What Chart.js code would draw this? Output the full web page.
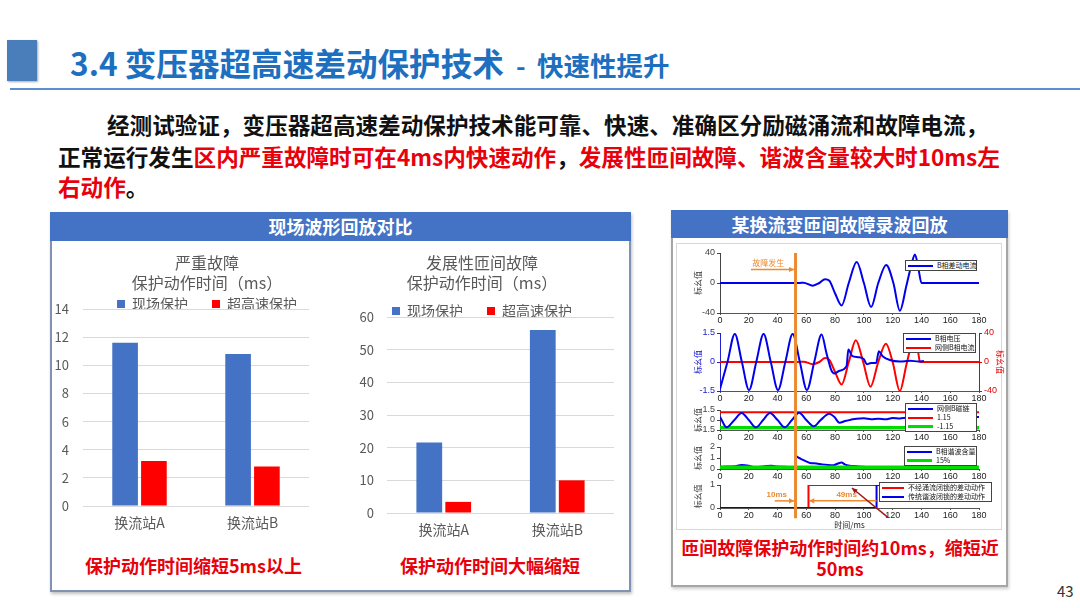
<!DOCTYPE html>
<html lang="zh-CN"><head><meta charset="utf-8"><title>3.4 变压器超高速差动保护技术</title>
<script src="https://cdn.jsdelivr.net/npm/chart.js@4.4.1/dist/chart.umd.min.js"></script>
<style>
*{box-sizing:border-box}
html,body{margin:0;padding:0;background:#fff}
body{position:relative;width:1080px;height:608px;overflow:hidden;font-family:"Noto Sans CJK SC","Noto Sans",sans-serif}
.a{position:absolute;white-space:nowrap}
canvas{position:absolute;z-index:1}
.p{font-size:22.6px;font-weight:700;color:#111;line-height:30px}
.r{color:#e8000b}
.hd{position:absolute;background:#4472c4;color:#fff;font-weight:700;font-size:18px;text-align:center;z-index:1}
.leg{position:absolute;background:#fff;border:1px solid #444;z-index:5;font-size:7px;line-height:9px;color:#111;padding:0 2px}
.leg div{display:flex;align-items:center;height:9px;white-space:nowrap}
.leg i{display:inline-block;width:25px;height:2px;margin-right:4px;flex:none}
.cap{font-size:18px;font-weight:700;color:#e8000b;line-height:21px}
</style></head><body>

<div class="a" style="left:7px;top:40px;width:30px;height:41px;background:#4a7ebb;box-shadow:1px 1px 2px rgba(0,0,0,.35)"></div>
<div class="a" style="left:70px;top:42px;font-size:31.6px;line-height:40px;font-weight:700;color:#1d6fbf">3.4 变压器超高速差动保护技术</div>
<div class="a" style="left:516px;top:47px;font-size:26px;line-height:36px;font-weight:700;color:#1d6fbf">-</div>
<div class="a" style="left:537px;top:47px;font-size:26.5px;line-height:36px;font-weight:700;color:#1d6fbf">快速性提升</div>
<div class="a" style="left:10px;top:88px;width:1070px;height:2px;background:#5b8fd1"></div>

<div class="a p" style="left:107px;top:110px">经测试验证，变压器超高速差动保护技术能可靠、快速、准确区分励磁涌流和故障电流，</div>
<div class="a p" style="left:58px;top:142px">正常运行发生<span class="r">区内严重故障时可在4ms内快速动作</span>，<span class="r">发展性匝间故障、谐波含量较大时10ms左</span></div>
<div class="a p" style="left:58px;top:172px"><span class="r">右动作</span>。</div>

<!-- left panel -->
<div class="a" style="left:50px;top:212px;width:581px;height:380px;border:2px solid #8193b2;box-shadow:1px 2px 3px rgba(0,0,0,.25)"></div>
<div class="hd" style="left:50px;top:212px;width:581px;height:29px;line-height:29px">现场波形回放对比</div>
<canvas id="c1" width="314" height="280" style="left:50px;top:253px"></canvas>
<canvas id="c2" width="264" height="287" style="left:350px;top:253px"></canvas>
<div class="a cap" style="left:85px;top:555px">保护动作时间缩短5ms以上</div>
<div class="a cap" style="left:400px;top:555px">保护动作时间大幅缩短</div>

<!-- right panel -->
<div class="a" style="left:671px;top:210px;width:337px;height:377px;border:2px solid #a6a6a6;box-shadow:1px 2px 3px rgba(0,0,0,.2)"></div>
<div class="hd" style="left:671px;top:210px;width:337px;height:28px;line-height:28px">某换流变匝间故障录波回放</div>
<div class="a" style="left:676px;top:243px;width:326px;height:287px;border:1px solid #d8d8d8"></div>
<canvas id="w1" width="330" height="83" style="left:675px;top:245px"></canvas>
<canvas id="w2" width="330" height="81" style="left:675px;top:325px"></canvas>
<canvas id="w3" width="330" height="43" style="left:675px;top:402px"></canvas>
<canvas id="w4" width="330" height="45" style="left:675px;top:439px"></canvas>
<canvas id="w5" width="330" height="54" style="left:675px;top:477px"></canvas>
<canvas id="ov" width="330" height="290" style="left:675px;top:243px;z-index:2"></canvas>

<div class="leg" style="left:905px;top:260px;width:72px;height:11px"><div><i style="background:#0000ee"></i>B相差动电流</div></div>
<div class="leg" style="left:903px;top:333px;width:73px;height:20px"><div><i style="background:#0000ee"></i>B相电压</div><div><i style="background:#ff0000"></i>网侧B相电流</div></div>
<div class="leg" style="left:905px;top:403px;width:72px;height:29px"><div><i style="background:#0000ee"></i>网侧B磁链</div><div><i style="background:#ff0000"></i>1.15</div><div><i style="background:#00dd00;height:3px"></i>-1.15</div></div>
<div class="leg" style="left:904px;top:446px;width:73px;height:20px"><div><i style="background:#0000ee"></i>B相谐波含量</div><div><i style="background:#00dd00;height:3px"></i>15%</div></div>
<div class="leg" style="left:879px;top:482px;width:113px;height:20px"><div><i style="background:#ff0000;width:22px"></i>不经涌流闭锁的差动动作</div><div><i style="background:#0000ee;width:22px"></i>传统谐波闭锁的差动动作</div></div>

<div class="a cap" style="left:672px;top:537px;width:336px;text-align:center">匝间故障保护动作时间约10ms，缩短近<br>50ms</div>
<div class="a" style="left:1057px;top:581px;font-size:15px;line-height:20px;color:#333">43</div>

<script>
// ---------- 现场波形回放对比 ----------
const stations = ['换流站A', '换流站B'];
const seriesNames = ['现场保护', '超高速保护'];
const severeTitle = ['严重故障', '保护动作时间（ms）'];
const severeField = [11.6, 10.8];
const severeFast = [3.2, 2.8];
const turnTitle = ['发展性匝间故障', '保护动作时间（ms）'];
const turnField = [21.6, 56];
const turnFast = [3.4, 10];

// ---------- 某换流变匝间故障录波回放 (时间 ms) ----------
const faultT = 52.5;
const diffT = [0, 55, 58, 64.5, 69, 73, 76, 80, 84.5, 89.5, 95, 100, 105, 110, 115.5, 120.5, 125, 129.5, 133, 135.5, 138, 140, 180];
const diffV = [0, 0, 0.5, -3.5, 0, 5, 3, -14, -30, 0, 28, 0, -32, 0, 24, 0, -37, -4, 24, 38, 18, 0, 0];
const voltT = [0, 5.2, 10.3, 15.2, 20.2, 25.2, 30.3, 35.3, 40.3, 45.4, 50.5, 55.5, 60.4, 65.5, 70.6, 74, 77.5, 79.5, 83, 88, 89.2, 92, 96, 100, 102, 105, 108.5, 110.4, 113, 118, 125, 132, 138, 141.7];
const voltV = [-1.4, 0, 1.45, 0, -1.45, 0, 1.45, 0, -1.45, 0, 1.45, 0, -1.45, 0, 1.42, 0.45, -0.45, -0.6, -0.45, -0.2, 0.65, 0.3, 0.25, 0.15, -0.12, -0.05, -0.05, 0.55, 0.3, 0.1, 0.02, 0.06, 0.03, 0.05];
const gridT = [0, 55, 58, 64.5, 69, 73, 76, 80, 84.5, 89.5, 94.4, 99.5, 104.6, 110, 115.3, 120, 125, 129.5, 133, 135.5, 137.5, 139, 180];
const gridV = [0, 0, 0.5, -3, 0, 5.5, 3, -14, -31, 0, 30, 0, -34, 0, 25, 0, -40, -4, 24, 38, 17, 0, 0];
const fluxT = [0, 4.6, 10, 15, 20, 25, 30, 34.7, 40, 45, 50, 55, 60, 65.3, 70, 75.9, 79.5, 83, 87, 91, 95, 100, 105, 110, 115, 120, 125, 130, 140, 150, 160, 170, 180];
const fluxV = [0.5, -1.1, 0, 1.05, 0, -1.1, 0, 1.05, 0, -1.1, 0, 1.1, 0, -0.95, 0, 0.95, 0.45, -0.4, -0.15, 0.05, 0.2, 0.25, 0.12, 0.2, 0.1, 0.3, 0.22, 0.35, 0.3, 0.4, 0.35, 0.42, 0.45];
const fluxLimT = [0, 180];
const fluxUpper = [1.15, 1.15];
const fluxLower = [-1.15, -1.15];
const harmT = [0, 5, 10, 15, 20, 24, 28, 32, 36, 40, 45, 50, 52.4, 52.7, 55, 58, 62.5, 67, 71, 75, 79, 82, 84.4, 87, 90, 95, 100, 104, 108, 120, 130, 140, 148.3, 149];
const harmV = [0.2, 0.22, 0.25, 0.37, 0.3, 0.15, 0.2, 0.28, 0.3, 0.22, 0.2, 0.15, 0.15, 1.15, 1.0, 0.8, 0.55, 0.5, 0.42, 0.37, 0.35, 0.5, 0.58, 0.4, 0.3, 0.25, 0.2, 0.08, 0.05, 0.05, 0.05, 0.05, 0.05, 0.25];
const harmLimT = [0, 180];
const harmLim = [0.15, 0.15];
const fastT = [0, 61.5, 61.5, 180];
const fastV = [0, 0, 1, 1];
const slowT = [0, 108.8, 108.8, 180];
const slowV = [0, 0, 1, 1];

Chart.defaults.font.family = '"Noto Sans CJK SC","Noto Sans",sans-serif';

const shrinkLegend = px => ({ id: 'shrinkLegend', beforeInit(chart) {
  const f = chart.legend.fit;
  chart.legend.fit = function () { f.call(this); this.height -= px; };
}});

function barChart(id, title, field, fast, ymax, step, yW, yPad, rW, titlePadB, shrink) {
  const ds = (label, data, color) => ({ label, data, backgroundColor: color, categoryPercentage: 0.51, barPercentage: 0.89 });
  return new Chart(document.getElementById(id), {
    type: 'bar',
    data: { labels: stations, datasets: [ds(seriesNames[0], field, '#4472c4'), ds(seriesNames[1], fast, '#ff0000')] },
    options: {
      responsive: false, animation: false, devicePixelRatio: 1, layout: { padding: 0 },
      plugins: {
        title: { display: true, text: title, color: '#595959', font: { size: 16, weight: 'normal', lineHeight: 1.25 }, padding: { top: 0, bottom: titlePadB } },
        legend: { labels: { boxWidth: 8, boxHeight: 8, padding: 24, color: '#595959', font: { size: 14 } } },
        tooltip: { enabled: false }
      },
      scales: {
        x: { grid: { display: false, drawTicks: false }, border: { display: false }, ticks: { color: '#595959', font: { size: 14 }, padding: 8 }, afterFit(s) { s.height = 27; } },
        y: { min: 0, max: ymax, ticks: { stepSize: step, color: '#595959', font: { size: 13 }, padding: yPad }, grid: { color: '#d9d9d9', drawTicks: false }, border: { display: false }, afterFit(s) { s.width = yW; } },
        yR: { position: 'right', ticks: { display: false }, grid: { display: false, drawTicks: false }, border: { display: false }, afterFit(s) { s.width = rW; } }
      }
    },
    plugins: [shrinkLegend(shrink)]
  });
}
barChart('c1', severeTitle, severeField, severeFast, 14, 2, 33, 14, 55, -20, 12);
barChart('c2', turnTitle, turnField, turnFast, 60, 10, 37, 13, 0, -13, 11);

// ---------- waveform subplots ----------
const tickFont = { family: '"Liberation Sans","Noto Sans CJK SC",sans-serif', size: 9 };
const pts = (T, V) => T.map((t, i) => ({ x: t, y: V[i] }));
function xAxis(h, title) {
  return { type: 'linear', min: 0, max: 180,
    ticks: { stepSize: 20, color: '#222', font: tickFont, padding: 0, autoSkip: false, maxRotation: 0 },
    grid: { drawOnChartArea: false, drawTicks: true, tickLength: 2, color: '#555' },
    border: { display: true, color: '#555' },
    title: title ? { display: true, text: title, color: '#222', font: { size: 8 }, padding: { top: 0, bottom: 1 } } : { display: false },
    afterFit(s) { s.height = h; } };
}
function yAxis(min, max, step, color, pos) {
  return { type: 'linear', position: pos, min, max,
    ticks: { stepSize: step, color, font: tickFont, padding: 2, autoSkip: false },
    grid: { drawOnChartArea: false, drawTicks: true, tickLength: 3, color },
    border: { display: true, color },
    title: { display: true, text: '标幺值', color, font: { size: 8 }, padding: { top: pos === 'left' ? 18 : 0, bottom: 0 } },
    afterFit(s) { s.width = pos === 'left' ? 45 : 26; } };
}
function line(data, color, width, yID, smooth) {
  return { data, borderColor: color, borderWidth: width, pointRadius: 0, yAxisID: yID || 'y',
    tension: smooth === false ? 0 : 0.4, cubicInterpolationMode: smooth === false ? 'default' : 'monotone' };
}
function wave(id, datasets, scales, padRight) {
  return new Chart(document.getElementById(id), {
    type: 'line', data: { datasets },
    options: { responsive: false, animation: false, devicePixelRatio: 1,
      layout: { padding: { top: 8, right: padRight, left: 0, bottom: 0 } },
      plugins: { legend: { display: false }, tooltip: { enabled: false } },
      scales }
  });
}
const BLUE = '#0000ee', RED = '#ff0000', GREEN = '#00dd00';
const s1 = wave('w1', [line(pts(diffT, diffV), BLUE, 2)], { x: xAxis(15), y: yAxis(-40, 40, 40, '#444', 'left') }, 26);
const s2 = wave('w2', [line(pts(voltT, voltV), BLUE, 2), line(pts(gridT, gridV), RED, 2, 'yR')],
  { x: xAxis(15), y: yAxis(-1.5, 1.5, 1.5, '#2020d0', 'left'), yR: yAxis(-40, 40, 40, '#e00000', 'right') }, 0);
const s3 = wave('w3', [line(pts(fluxT, fluxV), BLUE, 2), line(pts(fluxLimT, fluxUpper), RED, 2, 'y', false), line(pts(fluxLimT, fluxLower), GREEN, 3.5, 'y', false)],
  { x: xAxis(15), y: yAxis(-1.5, 1.5, 1.5, '#444', 'left') }, 26);
const s4 = wave('w4', [line(pts(harmLimT, harmLim), GREEN, 3.5, 'y', false), line(pts(harmT, harmV), BLUE, 2)],
  { x: xAxis(15), y: yAxis(0, 2, 1, '#444', 'left') }, 26);
const s5 = wave('w5', [line(pts(slowT, slowV), BLUE, 2, 'y', false), line(pts(fastT, fastV), RED, 2, 'y', false)],
  { x: xAxis(23, '时间/ms'), y: yAxis(0, 1, 1, '#444', 'left') }, 26);

// ---------- annotations (positions from the charts' scales) ----------
const faultLabel = { text: '故障发生', t: 33.6, v: 26.7, arrowFrom: 21.5, arrowV: 18 };
const tripLabels = [{ text: '10ms', t: 39.5, v: 0.56 }, { text: '49ms', t: 88, v: 0.56 }];
const tripArrowV = 0.31, tripArrowStart = 38, fastTrip = 61.5, slowTrip = 108.8;
const pointer = { t1: 116.7, v1: -0.41, t2: 91.7, v2: 0.87 };
const faultLineEnd = -0.45;

(function drawAnnotations() {
  const ov = document.getElementById('ov');
  const g = ov.getContext('2d');
  function P(ch, t, v, ax) {
    return [ch.canvas.offsetLeft - ov.offsetLeft + ch.scales.x.getPixelForValue(t),
            ch.canvas.offsetTop - ov.offsetTop + ch.scales[ax || 'y'].getPixelForValue(v)];
  }
  function arrow(a, b, col, w, h) {
    g.strokeStyle = col; g.fillStyle = col; g.lineWidth = w;
    g.beginPath(); g.moveTo(a[0], a[1]); g.lineTo(b[0], b[1]); g.stroke();
    const ang = Math.atan2(b[1] - a[1], b[0] - a[0]);
    g.beginPath(); g.moveTo(b[0], b[1]);
    g.lineTo(b[0] - h * Math.cos(ang - 0.45), b[1] - h * Math.sin(ang - 0.45));
    g.lineTo(b[0] - h * Math.cos(ang + 0.45), b[1] - h * Math.sin(ang + 0.45));
    g.closePath(); g.fill();
  }
  const ORANGE = '#ec8a30';
  const lineTop = P(s1, faultT, 40), lineBot = P(s5, faultT, faultLineEnd);
  g.strokeStyle = ORANGE; g.lineWidth = 3;
  g.beginPath(); g.moveTo(lineTop[0], lineTop[1]); g.lineTo(lineBot[0], lineBot[1]); g.stroke();
  g.font = '8px "Noto Sans CJK SC"'; g.textAlign = 'center'; g.textBaseline = 'middle'; g.fillStyle = ORANGE;
  const q = P(s1, faultLabel.t, faultLabel.v); g.fillText(faultLabel.text, q[0], q[1]);
  arrow(P(s1, faultLabel.arrowFrom, faultLabel.arrowV), P(s1, faultT - 0.8, faultLabel.arrowV), ORANGE, 1.5, 6);
  arrow(P(s5, tripArrowStart, tripArrowV), P(s5, faultT - 0.8, tripArrowV), ORANGE, 1.5, 6);
  arrow(P(s5, slowTrip, tripArrowV), P(s5, fastTrip + 0.3, tripArrowV), ORANGE, 1.5, 6);
  g.font = 'bold 8px "Liberation Sans"'; g.fillStyle = ORANGE;
  tripLabels.forEach(l => { const p = P(s5, l.t, l.v); g.fillText(l.text, p[0], p[1]); });
  arrow(P(s5, pointer.t1, pointer.v1), P(s5, pointer.t2, pointer.v2), '#a01818', 1.5, 6);
})();
</script>
</body></html>
